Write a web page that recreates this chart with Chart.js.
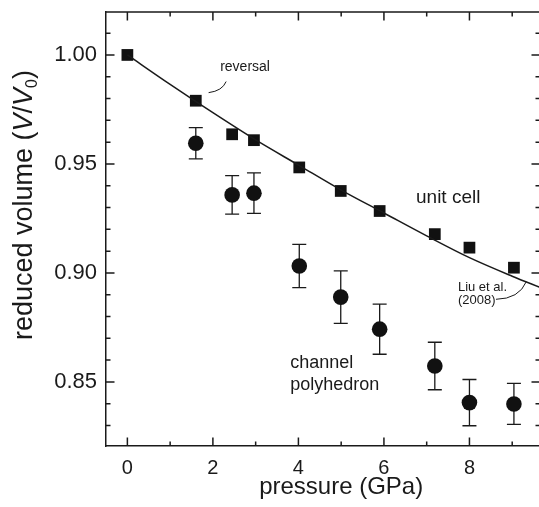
<!DOCTYPE html>
<html>
<head>
<meta charset="utf-8">
<script src="https://cdn.jsdelivr.net/npm/chart.js@4.4.0/dist/chart.umd.min.js"></script>
<style>
html, body { margin: 0; padding: 0; background: #fff; overflow: hidden; }
canvas { display: block; }
</style>
</head>
<body>
<canvas id="eos-chart" width="540" height="507"></canvas>
<script>
// unit cell (squares)
const unitCellPressure = [0, 1.6, 2.45, 2.96, 4.02, 4.99, 5.9, 7.19, 8.0, 9.04];
const unitCellVolume = [1.000, 0.979, 0.9636, 0.9609, 0.9484, 0.9376, 0.9284, 0.9178, 0.9116, 0.9024];

// channel polyhedron (circles) with error bars
const channelPressure = [1.6, 2.45, 2.96, 4.02, 4.99, 5.9, 7.19, 8.0, 9.04];
const channelVolume = [0.9595, 0.9358, 0.9366, 0.9032, 0.8889, 0.8742, 0.8573, 0.8405, 0.8399];
const channelError = [0.0072, 0.0088, 0.0093, 0.0099, 0.0120, 0.0115, 0.0109, 0.0106, 0.0094];

// Liu et al. (2008) curve
const fitPressure = [0, 1, 2, 3, 4, 5, 6, 7, 8, 9, 9.7];
const fitVolume = [1.000, 0.9865, 0.9735, 0.961, 0.9495, 0.938, 0.9275, 0.917, 0.907, 0.8985, 0.893];

// ticks
const xMajorTicks = [0, 2, 4, 6, 8];
const xMinorTicks = [1, 3, 5, 7, 9];
const yMajorTicks = [0.85, 0.90, 0.95, 1.00];
const yMinorTicks = [0.83, 0.84, 0.86, 0.87, 0.88, 0.89, 0.91, 0.92, 0.93, 0.94, 0.96, 0.97, 0.98, 0.99, 1.01];

const ink = '#1a1a1a';
const font = '"Liberation Sans", Arial, sans-serif';

function toPoints(xs, ys){
    return xs.map((v, i) => ({x: v, y: ys[i]}));
}

//no extra label padding, keeps the plot box where it is in the figure
function noPadding(scale){
    scale.paddingTop = 0;
    scale.paddingBottom = 0;
    scale.paddingLeft = 0;
    scale.paddingRight = 0;
}

//error bars under the circles
const errorBars = {
    id: 'errorBars',
    beforeDatasetsDraw(chart){
        const {ctx, scales: {x, y}} = chart;
        ctx.save();
        ctx.strokeStyle = ink;
        ctx.lineWidth = 1.3;
        ctx.beginPath();
        channelPressure.forEach((p, i) => {
            const px = x.getPixelForValue(p);
            const top = y.getPixelForValue(channelVolume[i] + channelError[i]);
            const bot = y.getPixelForValue(channelVolume[i] - channelError[i]);
            ctx.moveTo(px, top); ctx.lineTo(px, bot);
            ctx.moveTo(px - 7, top); ctx.lineTo(px + 7, top);
            ctx.moveTo(px - 7, bot); ctx.lineTo(px + 7, bot);
        });
        ctx.stroke();
        ctx.restore();
    }
};

//inward ticks on all four sides, top frame line, titles and labels
const frame = {
    id: 'frame',
    afterDraw(chart){
        const {ctx, chartArea: a, scales: {x, y}} = chart;
        ctx.save();
        ctx.strokeStyle = ink;
        ctx.lineWidth = 1.5;
        ctx.beginPath();
        ctx.moveTo(a.left, a.top); ctx.lineTo(a.right, a.top);
        ctx.moveTo(a.right, a.top); ctx.lineTo(a.right, a.bottom);
        const xt = (vals, len) => vals.forEach(v => {
            const px = x.getPixelForValue(v);
            ctx.moveTo(px, a.bottom); ctx.lineTo(px, a.bottom - len);
            ctx.moveTo(px, a.top); ctx.lineTo(px, a.top + len);
        });
        const yt = (vals, len) => vals.forEach(v => {
            const py = y.getPixelForValue(v);
            ctx.moveTo(a.left, py); ctx.lineTo(a.left + len, py);
            ctx.moveTo(a.right, py); ctx.lineTo(a.right - len, py);
        });
        xt(xMajorTicks, 8.5); xt(xMinorTicks, 4.5);
        yt(yMajorTicks, 8.5); yt(yMinorTicks, 4.5);
        ctx.stroke();

        const X = v => x.getPixelForValue(v);
        const Y = v => y.getPixelForValue(v);
        ctx.fillStyle = ink;
        ctx.textBaseline = 'alphabetic';
        ctx.textAlign = 'left';

        // annotations
        ctx.font = '14px ' + font;
        ctx.fillText('reversal', X(2.17), Y(0.9927));
        ctx.font = '19px ' + font;
        ctx.fillText('unit cell', X(6.75), Y(0.9321));
        ctx.font = '18px ' + font;
        ctx.fillText('channel', X(3.81), Y(0.8562));
        ctx.fillText('polyhedron', X(3.81), Y(0.8462));
        ctx.font = '13px ' + font;
        ctx.fillText('Liu et al.', X(7.73), Y(0.8915));
        ctx.fillText('(2008)', X(7.73), Y(0.8856));

        // leader lines
        ctx.lineWidth = 1;
        ctx.beginPath();
        ctx.moveTo(X(1.90), Y(0.9827));
        ctx.quadraticCurveTo(X(2.22), Y(0.9835), X(2.31), Y(0.9878));
        ctx.moveTo(X(8.62), Y(0.8879));
        ctx.quadraticCurveTo(X(9.16), Y(0.8881), X(9.33), Y(0.8960));
        ctx.stroke();

        // x title
        ctx.font = '24px ' + font;
        ctx.textAlign = 'center';
        ctx.fillText('pressure (GPa)', X(5), 494);

        // y title with italic V and subscript 0
        const parts = [
            ['reduced volume (', '27px ' + font, 0],
            ['V', 'italic 27px ' + font, 0],
            ['/', '27px ' + font, 0],
            ['V', 'italic 27px ' + font, 0],
            ['0', '16px ' + font, 5],
            [')', '27px ' + font, 0]
        ];
        let total = 0;
        parts.forEach(pt => { ctx.font = pt[1]; total += ctx.measureText(pt[0]).width; });
        ctx.translate(32, 205);
        ctx.rotate(-Math.PI / 2);
        ctx.textAlign = 'left';
        let pos = -total / 2;
        parts.forEach(pt => {
            ctx.font = pt[1];
            ctx.fillText(pt[0], pos, pt[2]);
            pos += ctx.measureText(pt[0]).width;
        });
        ctx.restore();
    }
};

const canvas = document.querySelector('#eos-chart');

new Chart(canvas.getContext('2d'), {
    type: 'scatter',
    data: {
        datasets: [
            {
                type: 'line',
                label: 'Liu et al. (2008)',
                data: toPoints(fitPressure, fitVolume),
                borderColor: ink,
                borderWidth: 1.5,
                pointRadius: 0,
                cubicInterpolationMode: 'monotone',
                fill: false
            },
            {
                label: 'unit cell',
                data: toPoints(unitCellPressure, unitCellVolume),
                pointStyle: 'rect',
                pointRadius: 8.3,
                backgroundColor: '#111',
                borderColor: '#111',
                borderWidth: 0
            },
            {
                label: 'channel polyhedron',
                data: toPoints(channelPressure, channelVolume),
                pointStyle: 'circle',
                pointRadius: 7.8,
                backgroundColor: '#111',
                borderColor: '#111',
                borderWidth: 0
            }
        ]
    },
    options: {
        responsive: false,
        animation: false,
        devicePixelRatio: 1,
        layout: { autoPadding: false, padding: { top: 12, right: 0, left: 0, bottom: 0 } },
        plugins: {
            legend: { display: false },
            tooltip: { enabled: false }
        },
        scales: {
            x: {
                type: 'linear',
                min: -0.5,
                max: 9.65,
                afterBuildTicks: scale => { scale.ticks = xMajorTicks.map(v => ({value: v})); },
                afterFit: scale => { scale.height = 61; noPadding(scale); },
                grid: { display: true, drawOnChartArea: false, drawTicks: false },
                border: { display: true, color: ink, width: 1.5 },
                ticks: {
                    color: ink,
                    padding: 10,
                    maxRotation: 0,
                    font: { family: font, size: 20 },
                    callback: v => String(v)
                }
            },
            y: {
                type: 'linear',
                min: 0.8206,
                max: 1.0197,
                afterBuildTicks: scale => { scale.ticks = yMajorTicks.map(v => ({value: v})); },
                afterFit: scale => { scale.width = 106; noPadding(scale); },
                grid: { display: true, drawOnChartArea: false, drawTicks: false },
                border: { display: true, color: ink, width: 1.5 },
                ticks: {
                    color: ink,
                    padding: 9,
                    font: { family: font, size: 22 },
                    callback: v => v.toFixed(2)
                }
            }
        }
    },
    plugins: [errorBars, frame]
});
</script>
</body>
</html>
